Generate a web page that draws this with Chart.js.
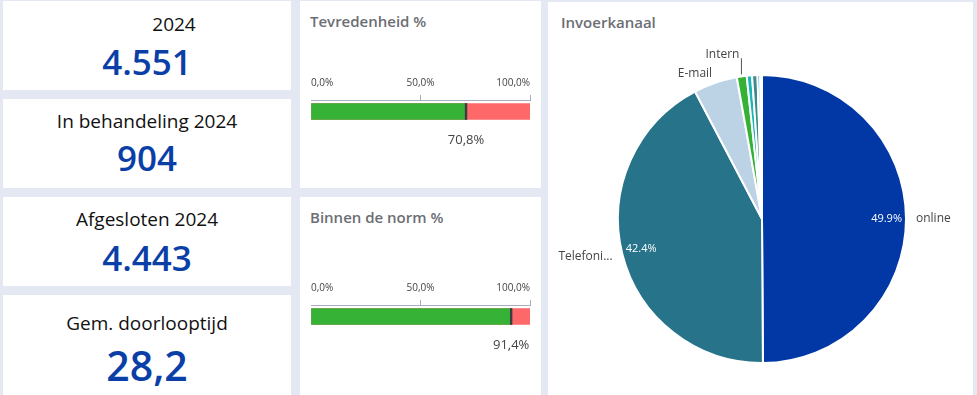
<!DOCTYPE html>
<html lang="nl">
<head>
<meta charset="utf-8">
<script src="https://cdn.jsdelivr.net/npm/chart.js@4.4.1/dist/chart.umd.min.js"></script>
<style>
  html, body { margin: 0; padding: 0; }
  body { width: 977px; height: 395px; overflow: hidden; position: relative; background: #e3e8f3; font-family: "Open Sans", sans-serif; }
  .card { position: absolute; background: #fff; }
  .kpi { left: 3px; width: 288px; }
  .kpi .label { position: absolute; left: 0; right: 0; text-align: center; font-size: 19px; line-height: 24px; color: #111; white-space: nowrap; font-weight: 500; }
  .kpi .value { position: absolute; left: 0; right: 0; text-align: center; font-size: 35px; line-height: 44px; color: #0b3fa8; font-weight: 600; }
  .title { position: absolute; left: 10px; top: 10px; font-size: 15px; font-weight: 600; color: #6c6e73; }
  canvas { position: absolute; }
</style>
</head>
<body>
<div class="card kpi" style="top:1px;height:89px"><div class="label" style="top:11px;padding-left:54px">2024</div><div class="value" style="top:39px">4.551</div></div>
<div class="card kpi" style="top:99px;height:89px"><div class="label" style="top:10px">In behandeling 2024</div><div class="value" style="top:37px">904</div></div>
<div class="card kpi" style="top:197px;height:89px"><div class="label" style="top:10px">Afgesloten 2024</div><div class="value" style="top:39px">4.443</div></div>
<div class="card kpi" style="top:295px;height:110px"><div class="label" style="top:16px">Gem. doorlooptijd</div><div class="value" style="top:44px;font-size:41px;line-height:52px">28,2</div></div>

<div class="card" style="left:300px;top:1px;width:241px;height:187px"><div class="title" id="t0"></div></div>
<div class="card" style="left:300px;top:197px;width:241px;height:210px"><div class="title" id="t1"></div></div>
<div class="card" style="left:548px;top:2px;width:425px;height:400px"><div class="title" style="left:13px">Invoerkanaal</div></div>

<canvas id="gauge0" width="241" height="100" style="left:300px;top:60px"></canvas>
<canvas id="gauge1" width="241" height="100" style="left:300px;top:265px"></canvas>
<canvas id="pie" width="425" height="393" style="left:548px;top:2px"></canvas>

<script>
const gaugeTitles = ['Tevredenheid %', 'Binnen de norm %'];
const gaugeValues = [70.8, 91.4];
const gaugeTicks = [0, 50, 100];

const channels = ['online', 'Telefonisch', 'E-mail', 'Intern', 'Brief', 'Balie', 'Social media', 'Overig'];
const channelShares = [49.9, 42.4, 4.9, 1.1, 0.6, 0.6, 0.3, 0.2];
const channelColors = ['#0238a6', '#26738a', '#bcd3e5', '#35b236', '#19b5b7', '#3a8b8a', '#2f7fd6', '#1c4d9c'];

const FONT = '"Open Sans", sans-serif';
const pct = (v) => v.toFixed(1).replace('.', ',') + '%';

// value text under the bullet bar
const valueLabel = {
    id: 'valueLabel',
    afterDatasetsDraw(chart) {
        const bar = chart.getDatasetMeta(1).data[0];
        const value = chart.data.datasets[1].data[0][1];
        const ctx = chart.ctx;
        ctx.save();
        ctx.font = '13px ' + FONT;
        ctx.fillStyle = '#444';
        ctx.textAlign = 'center';
        ctx.textBaseline = 'middle';
        ctx.fillText(pct(value), chart.scales.x.getPixelForValue(value), bar.y + 29);
        ctx.restore();
    },
};

function makeGauge(id, value) {
    new Chart(document.getElementById(id), {
        type: 'bar',
        data: {
            labels: [''],
            datasets: [
                { data: [[value - 0.4, value + 0.4]], backgroundColor: '#3c3c44', order: 0 },
                { data: [[0, value]], backgroundColor: '#36b236', order: 1 },
                { data: [[0, 100]], backgroundColor: '#fe6868', order: 2 },
            ],
        },
        options: {
            indexAxis: 'y',
            responsive: false,
            animation: false,
            datasets: { bar: { grouped: false, barThickness: 16, borderWidth: 0 } },
            layout: { padding: { left: 11, right: 11, top: 0, bottom: 37 } },
            plugins: { legend: { display: false }, tooltip: { enabled: false } },
            scales: {
                x: {
                    position: 'top',
                    min: 0,
                    max: 100,
                    afterBuildTicks: (s) => { s.ticks = gaugeTicks.map((v) => ({ value: v })); },
                    afterFit: (s) => { s.height = 40; },
                    ticks: { align: 'inner', padding: 6, color: '#444', font: { size: 10, family: FONT }, callback: (v) => pct(v) },
                    grid: { drawOnChartArea: false, tickLength: 5, color: (c) => (c.index === 0 ? 'rgba(0,0,0,0)' : '#a8aec0') },
                    border: { color: '#a8aec0' },
                },
                y: { display: false },
            },
        },
        plugins: [valueLabel],
    });
}

gaugeTitles.forEach((t, i) => { document.getElementById('t' + i).textContent = t; });
gaugeValues.forEach((v, i) => makeGauge('gauge' + i, v));

// percentages inside, names outside the pie
const pieLabels = {
    id: 'pieLabels',
    afterDatasetsDraw(chart) {
        const ctx = chart.ctx;
        const total = channelShares.reduce((a, b) => a + b, 0);
        const last = {};
        ctx.save();
        ctx.textBaseline = 'middle';
        chart.getDatasetMeta(0).data.forEach((arc, i) => {
            const { x, y, startAngle, endAngle, outerRadius: r } = arc.getProps(['x', 'y', 'startAngle', 'endAngle', 'outerRadius'], true);
            const mid = (startAngle + endAngle) / 2;
            const cos = Math.cos(mid);
            const sin = Math.sin(mid);
            const share = channelShares[i] / total * 100;
            if (share > 10) {
                ctx.font = '500 11px ' + FONT;
                ctx.fillStyle = '#fff';
                ctx.textAlign = 'center';
                ctx.fillText(share.toFixed(1) + '%', x + cos * r * 0.865, y + sin * r * 0.865);
            }
            if (share < 1) return;
            const name = channels[i].length > 9 ? channels[i].slice(0, 8) + '...' : channels[i];
            const side = cos >= 0 ? 'right' : 'left';
            let lx = x + cos * (r + 10);
            let ly = y + sin * (r + 10);
            ctx.font = '12px ' + FONT;
            ctx.fillStyle = '#444';
            if (last[side] !== undefined && Math.abs(ly - last[side]) < 16) {
                const ex = x + cos * (r + 2);
                const ey = y + sin * (r + 2);
                ly = last[side] - 19;
                ctx.strokeStyle = '#555';
                ctx.lineWidth = 1;
                ctx.beginPath();
                ctx.moveTo(ex, ey);
                ctx.lineTo(ex, ly + 4);
                ctx.stroke();
                lx = ex - 2;
            }
            ctx.textAlign = side === 'right' ? 'left' : 'right';
            ctx.fillText(name, lx, ly);
            last[side] = ly;
        });
        ctx.restore();
    },
};

new Chart(document.getElementById('pie'), {
    type: 'pie',
    data: {
        labels: channels,
        datasets: [{ data: channelShares, backgroundColor: channelColors, borderColor: '#fff', borderWidth: 2 }],
    },
    options: {
        responsive: false,
        animation: false,
        layout: { padding: { left: 69, right: 66, top: 72, bottom: 31 } },
        plugins: { legend: { display: false }, tooltip: { enabled: false } },
    },
    plugins: [pieLabels],
});
</script>
</body>
</html>
